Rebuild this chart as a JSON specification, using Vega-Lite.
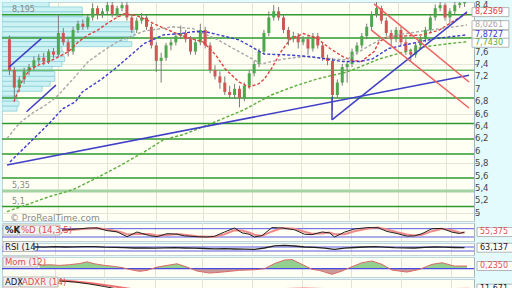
{
"$schema":"https://vega.github.io/schema/vega-lite/v6.json",
"background":"#e3fbfc","padding":0,"spacing":2,"bounds":"flush",
"config":{"view":{"stroke":"#c2d3da","fill":"#fffff3"},"font":"DejaVu Sans","axisX":{"labels":false,"ticks":false,"domain":false,"gridColor":"#e4e4d4","title":null,"minExtent":0,"maxExtent":0,"offset":0},"axisY":{"title":null,"labelOverlap":false,"labelSeparation":0}},
"datasets":{
"candles":[
{"t":0,"o":7.80,"h":7.86,"l":7.22,"c":7.30},{"t":1,"o":7.30,"h":7.35,"l":6.84,"c":7.02},{"t":2,"o":7.02,"h":7.20,"l":6.95,"c":7.15},{"t":3,"o":7.15,"h":7.34,"l":7.08,"c":7.28},{"t":4,"o":7.28,"h":7.40,"l":7.22,"c":7.35},{"t":5,"o":7.35,"h":7.52,"l":7.30,"c":7.46},{"t":6,"o":7.46,"h":7.56,"l":7.40,"c":7.50},{"t":7,"o":7.50,"h":7.58,"l":7.38,"c":7.44},{"t":8,"o":7.44,"h":7.64,"l":7.40,"c":7.60},{"t":9,"o":7.60,"h":7.66,"l":7.50,"c":7.55},
{"t":10,"o":7.55,"h":8.20,"l":7.52,"c":7.90},{"t":11,"o":7.90,"h":7.98,"l":7.70,"c":7.75},{"t":12,"o":7.75,"h":7.80,"l":7.52,"c":7.60},{"t":13,"o":7.60,"h":8.00,"l":7.55,"c":7.95},{"t":14,"o":7.95,"h":8.10,"l":7.90,"c":8.05},{"t":15,"o":8.05,"h":8.12,"l":7.95,"c":8.00},{"t":16,"o":8.00,"h":8.20,"l":7.96,"c":8.15},{"t":17,"o":8.15,"h":8.38,"l":8.10,"c":8.30},{"t":18,"o":8.30,"h":8.34,"l":8.12,"c":8.20},{"t":19,"o":8.20,"h":8.30,"l":8.14,"c":8.25},
{"t":20,"o":8.25,"h":8.40,"l":8.20,"c":8.35},{"t":21,"o":8.35,"h":8.40,"l":8.15,"c":8.20},{"t":22,"o":8.20,"h":8.34,"l":8.15,"c":8.30},{"t":23,"o":8.30,"h":8.42,"l":8.25,"c":8.35},{"t":24,"o":8.35,"h":8.40,"l":8.10,"c":8.15},{"t":25,"o":8.15,"h":8.20,"l":7.90,"c":7.95},{"t":26,"o":7.95,"h":8.15,"l":7.90,"c":8.10},{"t":27,"o":8.10,"h":8.22,"l":8.05,"c":8.15},{"t":28,"o":8.15,"h":8.20,"l":7.95,"c":8.00},{"t":29,"o":8.00,"h":8.05,"l":7.65,"c":7.70},
{"t":30,"o":7.70,"h":7.75,"l":7.27,"c":7.45},{"t":31,"o":7.45,"h":7.58,"l":7.10,"c":7.50},{"t":32,"o":7.50,"h":7.74,"l":7.45,"c":7.70},{"t":33,"o":7.70,"h":7.80,"l":7.62,"c":7.75},{"t":34,"o":7.75,"h":7.90,"l":7.70,"c":7.85},{"t":35,"o":7.85,"h":8.02,"l":7.80,"c":7.90},{"t":36,"o":7.90,"h":7.95,"l":7.75,"c":7.80},{"t":37,"o":7.80,"h":7.85,"l":7.55,"c":7.60},{"t":38,"o":7.60,"h":7.80,"l":7.55,"c":7.75},{"t":39,"o":7.75,"h":8.05,"l":7.70,"c":7.95},
{"t":40,"o":7.95,"h":8.00,"l":7.65,"c":7.70},{"t":41,"o":7.70,"h":7.75,"l":7.25,"c":7.30},{"t":42,"o":7.30,"h":7.38,"l":7.15,"c":7.20},{"t":43,"o":7.20,"h":7.28,"l":7.00,"c":7.10},{"t":44,"o":7.10,"h":7.20,"l":6.90,"c":6.95},{"t":45,"o":6.95,"h":7.05,"l":6.85,"c":6.90},{"t":46,"o":6.90,"h":7.08,"l":6.84,"c":7.00},{"t":47,"o":7.00,"h":7.05,"l":6.70,"c":6.85},{"t":48,"o":6.85,"h":7.10,"l":6.80,"c":7.05},{"t":49,"o":7.05,"h":7.30,"l":7.00,"c":7.25},
{"t":50,"o":7.25,"h":7.45,"l":7.20,"c":7.40},{"t":51,"o":7.40,"h":7.65,"l":7.35,"c":7.60},{"t":52,"o":7.60,"h":7.95,"l":7.55,"c":7.90},{"t":53,"o":7.90,"h":8.25,"l":7.85,"c":8.15},{"t":54,"o":8.15,"h":8.35,"l":8.10,"c":8.25},{"t":55,"o":8.25,"h":8.32,"l":8.10,"c":8.15},{"t":56,"o":8.15,"h":8.20,"l":7.90,"c":7.95},{"t":57,"o":7.95,"h":8.00,"l":7.70,"c":7.80},{"t":58,"o":7.80,"h":7.92,"l":7.75,"c":7.85},{"t":59,"o":7.85,"h":7.90,"l":7.65,"c":7.75},
{"t":60,"o":7.75,"h":7.85,"l":7.70,"c":7.80},{"t":61,"o":7.80,"h":7.86,"l":7.55,"c":7.65},{"t":62,"o":7.65,"h":7.90,"l":7.60,"c":7.85},{"t":63,"o":7.85,"h":7.90,"l":7.65,"c":7.70},{"t":64,"o":7.70,"h":7.75,"l":7.45,"c":7.50},{"t":65,"o":7.50,"h":7.55,"l":7.38,"c":7.45},{"t":66,"o":7.45,"h":7.50,"l":6.65,"c":6.90},{"t":67,"o":6.90,"h":7.15,"l":6.85,"c":7.10},{"t":68,"o":7.10,"h":7.40,"l":7.05,"c":7.35},{"t":69,"o":7.35,"h":7.45,"l":7.10,"c":7.40},
{"t":70,"o":7.40,"h":7.65,"l":7.35,"c":7.60},{"t":71,"o":7.60,"h":7.75,"l":7.55,"c":7.70},{"t":72,"o":7.70,"h":7.90,"l":7.65,"c":7.85},{"t":73,"o":7.85,"h":8.05,"l":7.80,"c":8.00},{"t":74,"o":8.00,"h":8.25,"l":7.95,"c":8.20},{"t":75,"o":8.20,"h":8.40,"l":8.15,"c":8.30},{"t":76,"o":8.30,"h":8.34,"l":8.05,"c":8.10},{"t":77,"o":8.10,"h":8.15,"l":7.85,"c":7.90},{"t":78,"o":7.90,"h":7.95,"l":7.70,"c":7.80},{"t":79,"o":7.80,"h":8.00,"l":7.75,"c":7.95},
{"t":80,"o":7.95,"h":8.00,"l":7.70,"c":7.75},{"t":81,"o":7.75,"h":7.80,"l":7.55,"c":7.60},{"t":82,"o":7.60,"h":7.65,"l":7.45,"c":7.55},{"t":83,"o":7.55,"h":7.75,"l":7.50,"c":7.70},{"t":84,"o":7.70,"h":7.85,"l":7.65,"c":7.80},{"t":85,"o":7.80,"h":8.00,"l":7.75,"c":7.95},{"t":86,"o":7.95,"h":8.20,"l":7.90,"c":8.15},{"t":87,"o":8.15,"h":8.36,"l":8.10,"c":8.30},{"t":88,"o":8.30,"h":8.42,"l":8.25,"c":8.35},{"t":89,"o":8.35,"h":8.38,"l":8.10,"c":8.15},
{"t":90,"o":8.15,"h":8.30,"l":8.05,"c":8.25},{"t":91,"o":8.25,"h":8.40,"l":8.20,"c":8.35},{"t":92,"o":8.35,"h":8.42,"l":8.30,"c":8.38},{"t":93,"o":8.38,"h":8.44,"l":8.32,"c":8.40}
],
"ma":[
{"s":"ma20","t":0.9,"v":6.79},{"s":"ma20","t":2.5,"v":7.11},{"s":"ma20","t":4.1,"v":7.31},{"s":"ma20","t":6.1,"v":7.39},{"s":"ma20","t":8.1,"v":7.44},{"s":"ma20","t":10.1,"v":7.52},{"s":"ma20","t":12.1,"v":7.60},{"s":"ma20","t":14.1,"v":7.76},{"s":"ma20","t":16.1,"v":7.87},{"s":"ma20","t":18.1,"v":7.95},{"s":"ma20","t":19.5,"v":8.03},{"s":"ma20","t":21.5,"v":8.13},{"s":"ma20","t":23.5,"v":8.21},{"s":"ma20","t":26,"v":8.18},{"s":"ma20","t":28.1,"v":8.11},{"s":"ma20","t":29.5,"v":8.05},{"s":"ma20","t":31.5,"v":7.98},{"s":"ma20","t":34.5,"v":7.88},{"s":"ma20","t":37.5,"v":7.80},{"s":"ma20","t":39.5,"v":7.76},{"s":"ma20","t":42.1,"v":7.55},{"s":"ma20","t":44.1,"v":7.32},{"s":"ma20","t":46.9,"v":7.11},{"s":"ma20","t":48.9,"v":7.03},{"s":"ma20","t":50.9,"v":7.08},{"s":"ma20","t":52.1,"v":7.16},{"s":"ma20","t":53.5,"v":7.32},{"s":"ma20","t":55.5,"v":7.60},{"s":"ma20","t":57.5,"v":7.81},{"s":"ma20","t":60.1,"v":7.89},{"s":"ma20","t":62.9,"v":7.81},{"s":"ma20","t":65.5,"v":7.65},{"s":"ma20","t":68.1,"v":7.52},{"s":"ma20","t":70,"v":7.46},{"s":"ma20","t":71.9,"v":7.44},{"s":"ma20","t":74.5,"v":7.60},{"s":"ma20","t":75.5,"v":7.76},{"s":"ma20","t":77.5,"v":7.85},{"s":"ma20","t":80.5,"v":7.85},{"s":"ma20","t":84.5,"v":7.87},{"s":"ma20","t":87.9,"v":7.95},{"s":"ma20","t":90.5,"v":8.08},{"s":"ma20","t":93.5,"v":8.22},
{"s":"ma50","t":-0.5,"v":6.20},{"s":"ma50","t":2.1,"v":6.45},{"s":"ma50","t":4.9,"v":6.62},{"s":"ma50","t":7.1,"v":6.72},{"s":"ma50","t":9.5,"v":6.86},{"s":"ma50","t":12.9,"v":7.15},{"s":"ma50","t":16.1,"v":7.44},{"s":"ma50","t":19.5,"v":7.63},{"s":"ma50","t":22.1,"v":7.76},{"s":"ma50","t":27.5,"v":7.93},{"s":"ma50","t":33.5,"v":8.00},{"s":"ma50","t":37.5,"v":7.97},{"s":"ma50","t":42.1,"v":7.81},{"s":"ma50","t":46.9,"v":7.60},{"s":"ma50","t":51.5,"v":7.40},{"s":"ma50","t":53.5,"v":7.44},{"s":"ma50","t":56.1,"v":7.48},{"s":"ma50","t":60.1,"v":7.52},{"s":"ma50","t":65.5,"v":7.48},{"s":"ma50","t":68.9,"v":7.47},{"s":"ma50","t":71.5,"v":7.60},{"s":"ma50","t":76.1,"v":7.81},{"s":"ma50","t":80.9,"v":7.89},{"s":"ma50","t":86.1,"v":7.95},{"s":"ma50","t":90.9,"v":8.00},{"s":"ma50","t":93.5,"v":8.03},
{"s":"ma100","t":0.1,"v":5.82},{"s":"ma100","t":8.1,"v":6.44},{"s":"ma100","t":10.9,"v":6.68},{"s":"ma100","t":13.5,"v":6.79},{"s":"ma100","t":14.9,"v":6.95},{"s":"ma100","t":18.9,"v":7.16},{"s":"ma100","t":21.5,"v":7.32},{"s":"ma100","t":24.9,"v":7.55},{"s":"ma100","t":27.5,"v":7.73},{"s":"ma100","t":31.5,"v":7.87},{"s":"ma100","t":34.9,"v":7.89},{"s":"ma100","t":37.5,"v":7.92},{"s":"ma100","t":40.1,"v":7.92},{"s":"ma100","t":46.9,"v":7.79},{"s":"ma100","t":52.1,"v":7.56},{"s":"ma100","t":56.1,"v":7.55},{"s":"ma100","t":61.5,"v":7.52},{"s":"ma100","t":68.1,"v":7.44},{"s":"ma100","t":71.5,"v":7.44},{"s":"ma100","t":74.1,"v":7.48},{"s":"ma100","t":77.5,"v":7.65},{"s":"ma100","t":82.1,"v":7.73},{"s":"ma100","t":86.9,"v":7.81},{"s":"ma100","t":93.5,"v":7.87},
{"s":"ma200","t":-0.5,"v":5.02},{"s":"ma200","t":3.5,"v":5.13},{"s":"ma200","t":8.1,"v":5.26},{"s":"ma200","t":12.9,"v":5.37},{"s":"ma200","t":17.5,"v":5.55},{"s":"ma200","t":22.1,"v":5.74},{"s":"ma200","t":27.5,"v":5.98},{"s":"ma200","t":31.5,"v":6.18},{"s":"ma200","t":35.5,"v":6.26},{"s":"ma200","t":41.5,"v":6.45},{"s":"ma200","t":47.9,"v":6.66},{"s":"ma200","t":53.5,"v":6.90},{"s":"ma200","t":58.9,"v":7.06},{"s":"ma200","t":62.9,"v":7.16},{"s":"ma200","t":68.9,"v":7.27},{"s":"ma200","t":71.5,"v":7.35},{"s":"ma200","t":75.5,"v":7.48},{"s":"ma200","t":80.9,"v":7.60},{"s":"ma200","t":84.9,"v":7.68},{"s":"ma200","t":90.1,"v":7.73},{"s":"ma200","t":93.5,"v":7.76}
],
"profile":[
{"lo":8.32,"hi":8.40,"vol":100},{"lo":8.24,"hi":8.32,"vol":170},{"lo":8.16,"hi":8.24,"vol":170},{"lo":8.08,"hi":8.16,"vol":186},{"lo":8.00,"hi":8.08,"vol":275},{"lo":7.92,"hi":8.00,"vol":280},{"lo":7.84,"hi":7.92,"vol":280},{"lo":7.76,"hi":7.84,"vol":265},{"lo":7.68,"hi":7.76,"vol":275},{"lo":7.60,"hi":7.68,"vol":127},{"lo":7.52,"hi":7.60,"vol":131},{"lo":7.44,"hi":7.52,"vol":133},{"lo":7.36,"hi":7.44,"vol":127},{"lo":7.28,"hi":7.36,"vol":106},{"lo":7.20,"hi":7.28,"vol":112},{"lo":7.12,"hi":7.20,"vol":112},{"lo":7.04,"hi":7.12,"vol":102},{"lo":6.96,"hi":7.04,"vol":85},{"lo":6.88,"hi":6.96,"vol":32},{"lo":6.80,"hi":6.88,"vol":32},{"lo":6.72,"hi":6.80,"vol":36},{"lo":6.64,"hi":6.72,"vol":32}
],
"levels":[{"p":8.195},{"p":7.82},{"p":6.85},{"p":6.44},{"p":6.19},{"p":5.95},{"p":5.56},{"p":5.1}],
"tb":[{"g":"b1","t":-0.1,"p":7.35},{"g":"b1","t":6.5,"p":7.81},{"g":"b2","t":3.5,"p":6.63},{"g":"b2","t":9.5,"p":7.06},{"g":"b3","t":-0.5,"p":5.77},{"g":"b3","t":93.9,"p":7.22},{"g":"b4","t":65.9,"p":6.5},{"g":"b4","t":93.5,"p":8.24},{"g":"b5","t":65.9,"p":6.5},{"g":"b5","t":65.91,"p":6.87}],
"tr":[{"g":"r1","t":74.5,"p":8.37},{"g":"r1","t":93.9,"p":7.11},{"g":"r2","t":73.9,"p":7.95},{"g":"r2","t":93.9,"p":6.69}],
"notes":[{"p":8.195,"lab":"8,195"},{"p":5.35,"lab":"5,35"},{"p":5.1,"lab":"5,1"}],
"ticks":[{"p":5,"lab":"5"},{"p":5.2,"lab":"5,2"},{"p":5.4,"lab":"5,4"},{"p":5.6,"lab":"5,6"},{"p":5.8,"lab":"5,8"},{"p":6,"lab":"6"},{"p":6.2,"lab":"6,2"},{"p":6.4,"lab":"6,4"},{"p":6.6,"lab":"6,6"},{"p":6.8,"lab":"6,8"},{"p":7,"lab":"7"},{"p":7.2,"lab":"7,2"},{"p":7.4,"lab":"7,4"},{"p":7.6,"lab":"7,6"}],
"tags":[{"s":"ma20","v":8.2369,"lab":"8,2369"},{"s":"ma50","v":8.0261,"lab":"8,0261"},{"s":"ma100","v":7.8727,"lab":"7,8727"},{"s":"ma200","v":7.743,"lab":"7,7430"}],
"stoch":[{"t":11.5,"k":70,"d":66},{"t":14.5,"k":78,"d":74},{"t":17,"k":85,"d":82},{"t":18.5,"k":85,"d":85},{"t":20.5,"k":66,"d":74},{"t":22.5,"k":57,"d":62},{"t":23.5,"k":40,"d":52},{"t":24.5,"k":22,"d":38},{"t":26.5,"k":56,"d":42},{"t":29,"k":30,"d":42},{"t":30.5,"k":22,"d":30},{"t":32.5,"k":44,"d":34},{"t":34.5,"k":40,"d":42},{"t":36,"k":28,"d":36},{"t":38.5,"k":22,"d":26},{"t":40.5,"k":20,"d":22},{"t":42,"k":25,"d":22},{"t":44,"k":56,"d":40},{"t":46,"k":85,"d":68},{"t":47.5,"k":50,"d":66},{"t":48.9,"k":40,"d":52},{"t":50,"k":20,"d":36},{"t":51.5,"k":30,"d":28},{"t":53.5,"k":88,"d":60},{"t":55.5,"k":85,"d":84},{"t":58,"k":72,"d":80},{"t":60,"k":40,"d":58},{"t":61.5,"k":37,"d":44},{"t":63.5,"k":56,"d":46},{"t":65,"k":50,"d":52},{"t":66,"k":20,"d":40},{"t":68,"k":55,"d":40},{"t":70,"k":78,"d":62},{"t":72.7,"k":88,"d":82},{"t":74.7,"k":87,"d":88},{"t":76.5,"k":60,"d":74},{"t":78.5,"k":45,"d":54},{"t":80.5,"k":26,"d":38},{"t":82,"k":28,"d":30},{"t":83.5,"k":44,"d":36},{"t":85.5,"k":80,"d":62},{"t":87.5,"k":82,"d":80},{"t":89.5,"k":55,"d":68},{"t":91,"k":45,"d":52},{"t":92,"k":55.4,"d":50}],
"rsi":[{"t":6,"r":72},{"t":8,"r":68},{"t":10,"r":74},{"t":12,"r":70},{"t":14,"r":71},{"t":16,"r":74},{"t":18,"r":73},{"t":20,"r":68},{"t":22,"r":66},{"t":24,"r":63},{"t":26,"r":60},{"t":28,"r":62},{"t":30,"r":58},{"t":32,"r":62},{"t":34,"r":63},{"t":36,"r":60},{"t":38,"r":58},{"t":40,"r":55},{"t":42,"r":52},{"t":44,"r":53},{"t":46,"r":50},{"t":48,"r":48},{"t":50,"r":47},{"t":52,"r":60},{"t":54,"r":82},{"t":56,"r":86},{"t":58,"r":80},{"t":60,"r":70},{"t":62,"r":66},{"t":64,"r":58},{"t":66,"r":47},{"t":68,"r":58},{"t":70,"r":65},{"t":72,"r":70},{"t":74,"r":73},{"t":76,"r":68},{"t":78,"r":63},{"t":80,"r":61},{"t":82,"r":60},{"t":84,"r":66},{"t":86,"r":70},{"t":88,"r":68},{"t":90,"r":65},{"t":92,"r":63.1}],
"mom":[{"t":7,"m":0.3},{"t":9,"m":0.35},{"t":11,"m":0.29},{"t":13,"m":0.35},{"t":15,"m":0.45},{"t":16.5,"m":0.6},{"t":18,"m":0.43},{"t":20,"m":0.29},{"t":22,"m":0.2},{"t":23.5,"m":0.1},{"t":25,"m":-0.06},{"t":27,"m":-0.23},{"t":28.5,"m":-0.14},{"t":30.5,"m":0.14},{"t":32.5,"m":0.29},{"t":34.5,"m":0.43},{"t":36.5,"m":0.14},{"t":38.5,"m":-0.2},{"t":41,"m":-0.38},{"t":43.5,"m":-0.29},{"t":47,"m":-0.14},{"t":50,"m":-0.09},{"t":52,"m":0},{"t":54,"m":0.45},{"t":56,"m":0.75},{"t":57.5,"m":0.8},{"t":59.5,"m":0.38},{"t":61.5,"m":-0.05},{"t":63,"m":-0.15},{"t":65.5,"m":-0.49},{"t":67.5,"m":-0.2},{"t":69,"m":0.09},{"t":71.5,"m":0.52},{"t":73.5,"m":0.67},{"t":75.5,"m":0.38},{"t":77.5,"m":-0.12},{"t":80.5,"m":-0.29},{"t":83,"m":-0.06},{"t":85.5,"m":0.38},{"t":87.5,"m":0.52},{"t":90,"m":0.23},{"t":92.5,"m":0.235}],
"adx":[{"t":11,"a":27,"r":28.5},{"t":14,"a":25,"r":26},{"t":17,"a":21,"r":23},{"t":20,"a":16,"r":19},{"t":22,"a":12,"r":16},{"t":26,"a":5,"r":10},{"t":30,"a":2,"r":5},{"t":40,"a":2,"r":3},{"t":50,"a":8,"r":6},{"t":52,"a":11,"r":8},{"t":56,"a":12,"r":11},{"t":60,"a":11,"r":12},{"t":64,"a":10,"r":11},{"t":68,"a":12,"r":10},{"t":72,"a":11,"r":11},{"t":78,"a":9,"r":10},{"t":84,"a":10,"r":10},{"t":90,"a":11,"r":11},{"t":93,"a":11.671,"r":11.5}]
},
"vconcat":[
{"width":472,"height":219,"resolve":{"scale":{"x":"independent"}},
 "layer":[
  {"data":{"name":"profile"},"mark":{"type":"bar","fill":"#cdf2f4","stroke":"#8dcfd9","strokeWidth":0.8,"clip":true},
   "encoding":{"x":{"field":"vol","type":"quantitative","scale":{"domain":[0,1000]},"axis":null},"x2":{"datum":0},
    "y":{"field":"lo","type":"quantitative","scale":{"domain":[4.868,8.4],"nice":false,"zero":false},"title":null,
     "axis":{"orient":"right","values":[5,5.2,5.4,5.6,5.8,6,6.2,6.4,6.6,6.8,7,7.2,7.4,7.6,7.8,8,8.2,8.4],"labels":false,"tickColor":"#999","tickSize":4,"domainColor":"#a8b4bb","grid":true,"gridColor":"#e6e6d4","title":null}},
    "y2":{"field":"hi"}}},
  {"layer":[
   {"data":{"name":"levels"},"mark":{"type":"rule","color":"#2f9a2f","strokeWidth":1.5},"encoding":{"y":{"field":"p","type":"quantitative","scale":{"domain":[4.868,8.4],"nice":false,"zero":false},"title":null}}},
   {"data":{"values":[{"p":7.3}]},"mark":{"type":"rule","color":"#6cbc6c","strokeWidth":1.5},"encoding":{"y":{"field":"p","type":"quantitative","scale":{"domain":[4.868,8.4],"nice":false,"zero":false},"title":null}}},
   {"data":{"values":[{"p":5.35}]},"mark":{"type":"rule","color":"#a3d3a3","strokeWidth":3},"encoding":{"y":{"field":"p","type":"quantitative","scale":{"domain":[4.868,8.4],"nice":false,"zero":false},"title":null}}},
   {"data":{"name":"candles"},"mark":{"type":"rule","color":"#7a7a7a","strokeWidth":1,"clip":true},
    "encoding":{"x":{"field":"t","type":"quantitative","scale":{"domain":[-0.5,93.9],"nice":false,"zero":false},"axis":{"values":[10,20,30,39.5,49.5,59.5,69.3,79.3,89.3],"grid":true,"title":null},"title":null},
     "y":{"field":"l","type":"quantitative","scale":{"domain":[4.868,8.4],"nice":false,"zero":false},"title":null},"y2":{"field":"h"}}},
   {"data":{"name":"candles"},"mark":{"type":"bar","size":3,"clip":true},
    "encoding":{"x":{"field":"t","type":"quantitative","scale":{"domain":[-0.5,93.9],"nice":false,"zero":false},"title":null},
     "y":{"field":"o","type":"quantitative","scale":{"domain":[4.868,8.4],"nice":false,"zero":false},"title":null},"y2":{"field":"c"},
     "color":{"condition":{"test":"datum.c>=datum.o","value":"#4ea64e"},"value":"#d05555"}}},
   {"data":{"name":"ma"},"mark":{"type":"line","strokeDash":[3,2],"strokeWidth":1.4,"clip":true},
    "encoding":{"x":{"field":"t","type":"quantitative","scale":{"domain":[-0.5,93.9],"nice":false,"zero":false},"title":null},
     "y":{"field":"v","type":"quantitative","scale":{"domain":[4.868,8.4],"nice":false,"zero":false},"title":null},
     "color":{"field":"s","type":"nominal","scale":{"domain":["ma20","ma50","ma100","ma200"],"range":["#e04040","#a8a8a8","#3a3ad0","#5aae3a"]},"legend":null}}},
   {"data":{"name":"tb"},"mark":{"type":"line","color":"#4040c8","strokeWidth":1.5,"clip":true},
    "encoding":{"x":{"field":"t","type":"quantitative","scale":{"domain":[-0.5,93.9],"nice":false,"zero":false},"title":null},
     "y":{"field":"p","type":"quantitative","scale":{"domain":[4.868,8.4],"nice":false,"zero":false},"title":null},"detail":{"field":"g"}}},
   {"data":{"name":"tr"},"mark":{"type":"line","color":"#f06060","strokeWidth":1.5,"clip":true},
    "encoding":{"x":{"field":"t","type":"quantitative","scale":{"domain":[-0.5,93.9],"nice":false,"zero":false},"title":null},
     "y":{"field":"p","type":"quantitative","scale":{"domain":[4.868,8.4],"nice":false,"zero":false},"title":null},"detail":{"field":"g"}}},
   {"data":{"name":"notes"},"mark":{"type":"text","align":"left","baseline":"bottom","dx":5,"dy":-1,"fontSize":8,"color":"#888888"},
    "encoding":{"x":{"datum":-0.5,"type":"quantitative","title":null},"y":{"field":"p","type":"quantitative","title":null},"text":{"field":"lab"}}},
   {"data":{"values":[{"p":4.92,"lab":"© ProRealTime.com"}]},"mark":{"type":"text","align":"left","baseline":"middle","dx":3,"fontSize":9,"color":"#8a8a8a"},
    "encoding":{"x":{"datum":-0.5,"type":"quantitative","title":null},"y":{"field":"p","type":"quantitative","title":null},"text":{"field":"lab"}}},
   {"data":{"name":"ticks"},"mark":{"type":"text","align":"left","baseline":"middle","dx":6,"fontSize":8.5,"color":"#444444"},
    "encoding":{"x":{"datum":93.9,"type":"quantitative","title":null},"y":{"field":"p","type":"quantitative","title":null},"text":{"field":"lab"}}},
   {"data":{"values":[{"p":8.4,"lab":"8,4"}]},"mark":{"type":"text","align":"left","baseline":"top","dx":6,"dy":-1,"fontSize":8.5,"color":"#444444"},
    "encoding":{"x":{"datum":93.9,"type":"quantitative","title":null},"y":{"field":"p","type":"quantitative","title":null},"text":{"field":"lab"}}},
   {"data":{"name":"tags"},"mark":{"type":"point","shape":"M0,-1H8.2V1H0Z","size":81,"filled":true,"fill":"#ffffff","stroke":"#b5b5b5","strokeWidth":1,"opacity":1,"xOffset":3},
    "encoding":{"x":{"datum":93.9,"type":"quantitative","title":null},"y":{"field":"v","type":"quantitative","title":null}}},
   {"data":{"name":"tags"},"mark":{"type":"text","align":"left","baseline":"middle","dx":6,"fontSize":8},
    "encoding":{"x":{"datum":93.9,"type":"quantitative","title":null},"y":{"field":"v","type":"quantitative","title":null},"text":{"field":"lab"},
     "color":{"field":"s","type":"nominal","scale":{"domain":["ma20","ma50","ma100","ma200"],"range":["#e04040","#a8a8a8","#3a3ad0","#5aae3a"]},"legend":null}}}
  ]}
 ]},
{"width":472,"height":18,
 "layer":[
  {"data":{"values":[{"lvl":80},{"lvl":20}]},"mark":{"type":"rule","color":"#5a5ae6","strokeWidth":1},
   "encoding":{"y":{"field":"lvl","type":"quantitative","scale":{"domain":[-9,121],"nice":false,"zero":false},"title":null,"axis":{"orient":"right","labels":false,"ticks":false,"grid":false,"domainColor":"#a8b4bb","title":null}}}},
  {"data":{"name":"stoch"},"mark":{"type":"line","color":"#f08a8a","strokeWidth":2,"clip":true},
   "encoding":{"x":{"field":"t","type":"quantitative","scale":{"domain":[-0.5,93.9],"nice":false,"zero":false},"axis":{"values":[10,20,30,39.5,49.5,59.5,69.3,79.3,89.3],"grid":true,"title":null},"title":null},
    "y":{"field":"d","type":"quantitative","scale":{"domain":[-9,121],"nice":false,"zero":false},"title":null}}},
  {"data":{"name":"stoch"},"mark":{"type":"line","color":"#222222","strokeWidth":1,"clip":true},
   "encoding":{"x":{"field":"t","type":"quantitative","title":null},"y":{"field":"k","type":"quantitative","title":null}}},
  {"data":{"values":[{"v":70}]},"mark":{"type":"point","shape":"M0,-1H3V1H0Z","size":100,"filled":true,"fill":"#f2f2f2","stroke":"#b5b5b5","strokeWidth":1,"opacity":1,"xOffset":1},
   "encoding":{"x":{"datum":-0.5,"type":"quantitative","title":null},"y":{"field":"v","type":"quantitative","title":null}}},
  {"data":{"values":[{"v":70}]},"mark":{"type":"point","shape":"M0,-1H8.2V1H0Z","size":100,"filled":true,"fill":"#f2f2f2","stroke":"#b5b5b5","strokeWidth":1,"opacity":1,"xOffset":17},
   "encoding":{"x":{"datum":-0.5,"type":"quantitative","title":null},"y":{"field":"v","type":"quantitative","title":null}}},
  {"data":{"values":[{"v":70,"lab":"%K"}]},"mark":{"type":"text","align":"left","baseline":"middle","dx":3,"fontSize":8.5,"fontWeight":"bold","color":"#222222"},
   "encoding":{"x":{"datum":-0.5,"type":"quantitative","title":null},"y":{"field":"v","type":"quantitative","title":null},"text":{"field":"lab"}}},
  {"data":{"values":[{"v":70,"lab":"%D (14,3,5)"}]},"mark":{"type":"text","align":"left","baseline":"middle","dx":19,"fontSize":8.5,"color":"#e05050"},
   "encoding":{"x":{"datum":-0.5,"type":"quantitative","title":null},"y":{"field":"v","type":"quantitative","title":null},"text":{"field":"lab"}}},
  {"data":{"values":[{"v":55.375,"lab":"55,375"}]},"mark":{"type":"point","shape":"M0,-1H8.2V1H0Z","size":81,"filled":true,"fill":"#ffffff","stroke":"#b5b5b5","strokeWidth":1,"opacity":1,"xOffset":3},
   "encoding":{"x":{"datum":93.9,"type":"quantitative","title":null},"y":{"field":"v","type":"quantitative","title":null}}},
  {"data":{"values":[{"v":55.375,"lab":"55,375"}]},"mark":{"type":"text","align":"left","baseline":"middle","dx":6,"fontSize":8,"color":"#e05050"},
   "encoding":{"x":{"datum":93.9,"type":"quantitative","title":null},"y":{"field":"v","type":"quantitative","title":null},"text":{"field":"lab"}}}
 ]},
{"width":472,"height":12,
 "layer":[
  {"data":{"values":[{"lvl":70},{"lvl":30}]},"mark":{"type":"rule","color":"#5a5ae6","strokeWidth":1},
   "encoding":{"y":{"field":"lvl","type":"quantitative","scale":{"domain":[-10,110],"nice":false,"zero":false},"title":null,"axis":{"orient":"right","labels":false,"ticks":false,"grid":false,"domainColor":"#a8b4bb","title":null}}}},
  {"data":{"name":"rsi"},"mark":{"type":"line","color":"#222222","strokeWidth":1.3,"clip":true},
   "encoding":{"x":{"field":"t","type":"quantitative","scale":{"domain":[-0.5,93.9],"nice":false,"zero":false},"axis":{"values":[10,20,30,39.5,49.5,59.5,69.3,79.3,89.3],"grid":true,"title":null},"title":null},
    "y":{"field":"r","type":"quantitative","scale":{"domain":[-10,110],"nice":false,"zero":false},"title":null}}},
  {"data":{"values":[{"v":75}]},"mark":{"type":"point","shape":"M0,-1H6.2V1H0Z","size":100,"filled":true,"fill":"#f2f2f2","stroke":"#b5b5b5","strokeWidth":1,"opacity":1,"xOffset":1},
   "encoding":{"x":{"datum":-0.5,"type":"quantitative","title":null},"y":{"field":"v","type":"quantitative","title":null}}},
  {"data":{"values":[{"v":75,"lab":"RSI (14)"}]},"mark":{"type":"text","align":"left","baseline":"middle","dx":3,"fontSize":8.5,"color":"#222222"},
   "encoding":{"x":{"datum":-0.5,"type":"quantitative","title":null},"y":{"field":"v","type":"quantitative","title":null},"text":{"field":"lab"}}},
  {"data":{"values":[{"v":63.137,"lab":"63,137"}]},"mark":{"type":"point","shape":"M0,-1H8.2V1H0Z","size":81,"filled":true,"fill":"#ffffff","stroke":"#b5b5b5","strokeWidth":1,"opacity":1,"xOffset":3},
   "encoding":{"x":{"datum":93.9,"type":"quantitative","title":null},"y":{"field":"v","type":"quantitative","title":null}}},
  {"data":{"values":[{"v":63.137,"lab":"63,137"}]},"mark":{"type":"text","align":"left","baseline":"middle","dx":6,"fontSize":8,"color":"#222222"},
   "encoding":{"x":{"datum":93.9,"type":"quantitative","title":null},"y":{"field":"v","type":"quantitative","title":null},"text":{"field":"lab"}}}
 ]},
{"width":472,"height":20,
 "layer":[
  {"data":{"name":"mom"},"mark":{"type":"area","clip":true,"color":{"gradient":"linear","x1":0,"y1":0,"x2":0,"y2":1,"stops":[{"offset":0,"color":"#93cf8f"},{"offset":0.62,"color":"#93cf8f"},{"offset":0.62,"color":"#c99a98"},{"offset":1,"color":"#c99a98"}]}},
   "encoding":{"x":{"field":"t","type":"quantitative","scale":{"domain":[-0.5,93.9],"nice":false,"zero":false},"axis":{"values":[10,20,30,39.5,49.5,59.5,69.3,79.3,89.3],"grid":true,"title":null},"title":null},
    "y":{"field":"m","type":"quantitative","scale":{"domain":[-0.72,1.02],"nice":false,"zero":false},"title":null,"axis":{"orient":"right","labels":false,"ticks":false,"grid":false,"domainColor":"#a8b4bb","title":null}},
    "y2":{"datum":0}}},
  {"data":{"values":[{"lvl":0}]},"mark":{"type":"rule","color":"#4a4ae0","strokeWidth":1.2},
   "encoding":{"y":{"field":"lvl","type":"quantitative","title":null}}},
  {"data":{"name":"mom"},"mark":{"type":"line","color":"#d86a6a","strokeWidth":1,"clip":true},
   "encoding":{"x":{"field":"t","type":"quantitative","title":null},"y":{"field":"m","type":"quantitative","title":null}}},
  {"data":{"values":[{"v":0.585}]},"mark":{"type":"point","shape":"M0,-1H7V1H0Z","size":100,"filled":true,"fill":"#f2f2f2","stroke":"#b5b5b5","strokeWidth":1,"opacity":1,"xOffset":1},
   "encoding":{"x":{"datum":-0.5,"type":"quantitative","title":null},"y":{"field":"v","type":"quantitative","title":null}}},
  {"data":{"values":[{"v":0.585,"lab":"Mom (12)"}]},"mark":{"type":"text","align":"left","baseline":"middle","dx":3,"fontSize":8.5,"color":"#e05050"},
   "encoding":{"x":{"datum":-0.5,"type":"quantitative","title":null},"y":{"field":"v","type":"quantitative","title":null},"text":{"field":"lab"}}},
  {"data":{"values":[{"v":0.235,"lab":"0,2350"}]},"mark":{"type":"point","shape":"M0,-1H8.2V1H0Z","size":81,"filled":true,"fill":"#ffffff","stroke":"#b5b5b5","strokeWidth":1,"opacity":1,"xOffset":3},
   "encoding":{"x":{"datum":93.9,"type":"quantitative","title":null},"y":{"field":"v","type":"quantitative","title":null}}},
  {"data":{"values":[{"v":0.235,"lab":"0,2350"}]},"mark":{"type":"text","align":"left","baseline":"middle","dx":6,"fontSize":8,"color":"#e05050"},
   "encoding":{"x":{"datum":93.9,"type":"quantitative","title":null},"y":{"field":"v","type":"quantitative","title":null},"text":{"field":"lab"}}}
 ]},
{"width":472,"height":20,
 "layer":[
  {"data":{"name":"adx"},"mark":{"type":"line","color":"#f07070","strokeWidth":2,"clip":true},
   "encoding":{"x":{"field":"t","type":"quantitative","scale":{"domain":[-0.5,93.9],"nice":false,"zero":false},"axis":{"values":[10,20,30,39.5,49.5,59.5,69.3,79.3,89.3],"grid":true,"title":null},"title":null},
    "y":{"field":"r","type":"quantitative","scale":{"domain":[-9,31],"nice":false,"zero":false},"title":null,"axis":{"orient":"right","labels":false,"ticks":false,"grid":false,"domainColor":"#a8b4bb","title":null}}}},
  {"data":{"name":"adx"},"mark":{"type":"line","color":"#222222","strokeWidth":1,"clip":true},
   "encoding":{"x":{"field":"t","type":"quantitative","title":null},"y":{"field":"a","type":"quantitative","title":null}}},
  {"data":{"values":[{"v":25}]},"mark":{"type":"point","shape":"M0,-1H3.2V1H0Z","size":100,"filled":true,"fill":"#f2f2f2","stroke":"#b5b5b5","strokeWidth":1,"opacity":1,"xOffset":1},
   "encoding":{"x":{"datum":-0.5,"type":"quantitative","title":null},"y":{"field":"v","type":"quantitative","title":null}}},
  {"data":{"values":[{"v":25}]},"mark":{"type":"point","shape":"M0,-1H7.6V1H0Z","size":100,"filled":true,"fill":"#f2f2f2","stroke":"#b5b5b5","strokeWidth":1,"opacity":1,"xOffset":18},
   "encoding":{"x":{"datum":-0.5,"type":"quantitative","title":null},"y":{"field":"v","type":"quantitative","title":null}}},
  {"data":{"values":[{"v":25,"lab":"ADX"}]},"mark":{"type":"text","align":"left","baseline":"middle","dx":3,"fontSize":8.5,"color":"#222222"},
   "encoding":{"x":{"datum":-0.5,"type":"quantitative","title":null},"y":{"field":"v","type":"quantitative","title":null},"text":{"field":"lab"}}},
  {"data":{"values":[{"v":25,"lab":"ADXR (14)"}]},"mark":{"type":"text","align":"left","baseline":"middle","dx":20,"fontSize":8.5,"color":"#e05050"},
   "encoding":{"x":{"datum":-0.5,"type":"quantitative","title":null},"y":{"field":"v","type":"quantitative","title":null},"text":{"field":"lab"}}},
  {"data":{"values":[{"v":11.671,"lab":"11,671"}]},"mark":{"type":"point","shape":"M0,-1H8.2V1H0Z","size":81,"filled":true,"fill":"#ffffff","stroke":"#b5b5b5","strokeWidth":1,"opacity":1,"xOffset":3},
   "encoding":{"x":{"datum":93.9,"type":"quantitative","title":null},"y":{"field":"v","type":"quantitative","title":null}}},
  {"data":{"values":[{"v":11.671,"lab":"11,671"}]},"mark":{"type":"text","align":"left","baseline":"middle","dx":6,"fontSize":8,"color":"#222222"},
   "encoding":{"x":{"datum":93.9,"type":"quantitative","title":null},"y":{"field":"v","type":"quantitative","title":null},"text":{"field":"lab"}}}
 ]}
]
}
